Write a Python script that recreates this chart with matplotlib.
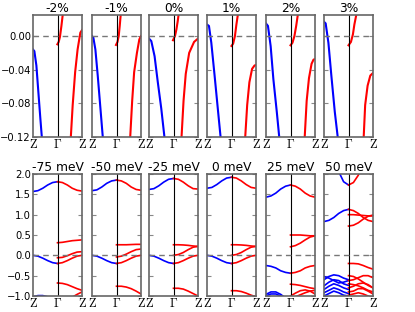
import numpy as np
import matplotlib
matplotlib.use('Agg')
import matplotlib.pyplot as plt

plt.rcParams['mathtext.fontset'] = 'cm'
plt.rcParams['font.size'] = 8

# ---- top row: strain series, small energy window ----
strain_titles = ['-2%', '-1%', '0%', '1%', '2%', '3%']

# blue band leaving Z (x, E)
strain_blue_x = [
    [0, 0.028, 0.069, 0.11, 0.15, 0.18],
    [0, 0.028, 0.069, 0.117, 0.172, 0.22],
    [0, 0.047, 0.114, 0.18, 0.25, 0.315],
    [0, 0.04, 0.088, 0.155, 0.22, 0.277],
    [0, 0.04, 0.095, 0.15, 0.22, 0.27],
    [0, 0.034, 0.09, 0.15, 0.22, 0.28],
]
strain_blue_y = [
    [-0.016, -0.018, -0.035, -0.067, -0.098, -0.12],
    [0.0, -0.002, -0.016, -0.047, -0.086, -0.12],
    [-0.003, -0.006, -0.024, -0.055, -0.086, -0.12],
    [0.0137, 0.012, -0.008, -0.047, -0.086, -0.12],
    [0.0149, 0.012, -0.012, -0.051, -0.09, -0.12],
    [0.0169, 0.015, -0.008, -0.047, -0.09, -0.12],
]
# red band leaving Gamma
strain_redg_x = [
    [0.497, 0.524, 0.55, 0.58, 0.607],
    [0.49, 0.52, 0.545, 0.566, 0.586],
    [0.49, 0.53, 0.56, 0.587, 0.604],
    [0.5, 0.534, 0.57, 0.6, 0.63],
    [0.5, 0.54, 0.58, 0.616, 0.65],
    [0.5, 0.55, 0.59, 0.62, 0.66],
]
strain_redg_y = [
    [-0.0098, -0.007, -0.001, 0.012, 0.0255],
    [-0.0106, -0.007, 0.0, 0.012, 0.0255],
    [-0.005, 0.0, 0.008, 0.018, 0.0255],
    [-0.0118, -0.009, 0.0, 0.0137, 0.0255],
    [-0.011, -0.008, 0.0, 0.012, 0.0255],
    [-0.011, -0.007, 0.002, 0.0137, 0.0255],
]
# red band arriving at Z
strain_redz_x = [
    [0.772, 0.81, 0.86, 0.91, 0.966, 1.0],
    [0.78, 0.82, 0.86, 0.917, 0.966, 1.0],
    [0.664, 0.705, 0.75, 0.82, 0.92, 1.0],
    [0.78, 0.82, 0.865, 0.92, 0.97, 1.0],
    [0.79, 0.83, 0.877, 0.93, 0.97, 1.0],
    [0.81, 0.84, 0.89, 0.945, 0.98, 1.0],
]
strain_redz_y = [
    [-0.12, -0.082, -0.043, -0.016, 0.004, 0.007],
    [-0.12, -0.077, -0.043, -0.02, -0.004, 0.0],
    [-0.12, -0.077, -0.045, -0.02, -0.007, -0.003],
    [-0.12, -0.082, -0.055, -0.039, -0.035, -0.0345],
    [-0.12, -0.077, -0.05, -0.033, -0.028, -0.0275],
    [-0.12, -0.082, -0.059, -0.047, -0.045, -0.044],
]

# ---- bottom row: gate series, wide energy window ----
gate_titles = ['-75 meV', '-50 meV', '-25 meV', '0 meV', '25 meV', '50 meV']
k_left = [0, 0.1, 0.2, 0.3, 0.4, 0.5]    # Z -> Gamma
k_right = [0.5, 0.6, 0.7, 0.8, 0.9, 1.0]  # Gamma -> Z

gate_blue = [
    [[1.57, 1.59, 1.65, 1.73, 1.79, 1.81],
     [0.0, -0.02, -0.07, -0.13, -0.18, -0.2],
     [-1.02, -0.99, -0.99, -1.02, -1.08, -1.1]],
    [[1.59, 1.61, 1.68, 1.77, 1.83, 1.85],
     [0.0, -0.02, -0.07, -0.13, -0.18, -0.2]],
    [[1.62, 1.64, 1.71, 1.80, 1.87, 1.89],
     [0.0, -0.02, -0.07, -0.13, -0.18, -0.2]],
    [[1.65, 1.67, 1.74, 1.83, 1.90, 1.92],
     [0.0, -0.02, -0.07, -0.13, -0.18, -0.2]],
    [[1.43, 1.46, 1.53, 1.63, 1.70, 1.73],
     [-0.25, -0.27, -0.31, -0.38, -0.42, -0.44],
     [-0.96, -0.9, -0.9, -0.96, -1.05, -1.1],
     [-1.0, -0.95, -0.95, -1.0, -1.05, -1.1]],
    [[3.0, 2.9, 2.48, 2.06, 1.81, 1.73],
     [0.83, 0.86, 0.93, 1.03, 1.10, 1.13],
     [-0.6, -0.52, -0.48, -0.5, -0.56, -0.6],
     [-0.52, -0.56, -0.62, -0.68, -0.66, -0.62],
     [-0.75, -0.66, -0.6, -0.62, -0.7, -0.74],
     [-0.84, -0.76, -0.7, -0.74, -0.8, -0.84],
     [-0.92, -0.86, -0.8, -0.84, -0.9, -0.94],
     [-1.0, -0.94, -0.88, -0.92, -0.98, -1.0]],
]
gate_red = [
    [[1.81, 1.79, 1.73, 1.65, 1.60, 1.58],
     [-0.2, -0.18, -0.13, -0.07, -0.02, 0.0],
     [-0.06, -0.05, -0.01, 0.04, 0.08, 0.09],
     [0.31, 0.32, 0.34, 0.36, 0.37, 0.38],
     [-0.68, -0.69, -0.72, -0.77, -0.82, -0.86],
     [-1.2, -1.15, -1.1, -1.03, -0.96, -0.9]],
    [[1.85, 1.83, 1.77, 1.68, 1.62, 1.60],
     [-0.2, -0.18, -0.13, -0.07, -0.02, 0.0],
     [-0.04, -0.02, 0.03, 0.09, 0.14, 0.155],
     [0.26, 0.26, 0.26, 0.265, 0.27, 0.27],
     [-0.76, -0.76, -0.78, -0.82, -0.88, -0.95]],
    [[1.89, 1.87, 1.80, 1.71, 1.64, 1.63],
     [-0.2, -0.18, -0.13, -0.07, -0.02, 0.0],
     [0.0, 0.02, 0.07, 0.14, 0.2, 0.22],
     [0.26, 0.26, 0.255, 0.245, 0.23, 0.22],
     [-0.81, -0.81, -0.83, -0.88, -0.94, -1.0]],
    [[1.92, 1.90, 1.83, 1.74, 1.67, 1.65],
     [-0.2, -0.18, -0.13, -0.07, -0.02, 0.0],
     [0.0, 0.02, 0.07, 0.14, 0.2, 0.22],
     [0.26, 0.26, 0.255, 0.245, 0.23, 0.22],
     [-0.87, -0.87, -0.89, -0.93, -0.98, -1.02]],
    [[1.73, 1.70, 1.63, 1.53, 1.46, 1.43],
     [0.5, 0.5, 0.5, 0.49, 0.48, 0.48],
     [0.21, 0.24, 0.3, 0.38, 0.45, 0.48],
     [-0.44, -0.42, -0.38, -0.31, -0.27, -0.25],
     [-0.71, -0.72, -0.74, -0.77, -0.8, -0.82],
     [-1.0, -0.93, -0.87, -0.85, -0.88, -0.95],
     [-1.05, -1.02, -0.97, -0.92, -0.88, -0.86]],
    [[1.73, 1.79, 1.97, 2.3, 2.7, 3.0],
     [1.13, 1.10, 1.03, 0.93, 0.86, 0.83],
     [1.0, 1.0, 0.99, 0.98, 0.97, 0.97],
     [0.72, 0.74, 0.8, 0.89, 0.96, 0.99],
     [-0.2, -0.2, -0.21, -0.25, -0.3, -0.34],
     [-0.5, -0.52, -0.58, -0.66, -0.74, -0.8],
     [-0.62, -0.6, -0.55, -0.5, -0.5, -0.55],
     [-0.7, -0.72, -0.75, -0.8, -0.86, -0.9],
     [-0.8, -0.76, -0.7, -0.68, -0.72, -0.8],
     [-0.9, -0.88, -0.82, -0.82, -0.88, -0.95],
     [-0.98, -0.95, -0.92, -0.95, -1.0, -1.05]],
]

W, H = 415, 312
fig = plt.figure(figsize=(W / 100, H / 100), dpi=100)

lefts = [33, 92, 149, 207, 266, 324]
pw = 49


def style(ax, ylim, yticks, show_y):
    ax.set_xlim(0, 1)
    ax.set_ylim(*ylim)
    ax.axvline(0.5, color='k', lw=0.8)
    ax.axhline(0, color='#777777', lw=1.0, ls='--', dashes=(4, 3))
    ax.set_xticks([0, 0.5, 1])
    ax.set_xticklabels([r'$\mathrm{Z}$', r'$\Gamma$', r'$\mathrm{Z}$'], fontsize=9)
    ax.set_yticks(yticks)
    ax.tick_params(axis='y', direction='in', left=True, right=True, length=3,
                   color='#888888', labelleft=show_y, labelsize=7.2, pad=1.5)
    ax.tick_params(axis='x', direction='in', length=0, pad=1)
    for s in ax.spines.values():
        s.set_color('#666666')
        s.set_linewidth(1.2)


for i in range(6):
    ax = fig.add_axes([lefts[i] / W, 1 - 137 / H, pw / W, 122 / H])
    ax.plot(strain_blue_x[i], strain_blue_y[i], color='#0000ff', lw=1.5)
    ax.plot(strain_redg_x[i], strain_redg_y[i], color='#ff0000', lw=1.5)
    ax.plot(strain_redz_x[i], strain_redz_y[i], color='#ff0000', lw=1.5)
    style(ax, (-0.12, 0.025), [-0.12, -0.08, -0.04, 0.0], i == 0)
    if i == 0:
        ax.set_yticklabels(['\u22120.12', '\u22120.08', '\u22120.04', '0.00'])
    ax.set_title(strain_titles[i], fontsize=8.8, pad=2)

for i in range(6):
    ax = fig.add_axes([lefts[i] / W, 1 - 296 / H, pw / W, 122 / H])
    for yb in gate_blue[i]:
        ax.plot(k_left, yb, color='#0000ff', lw=1.2)
    for yr in gate_red[i]:
        ax.plot(k_right, yr, color='#ff0000', lw=1.2)
    style(ax, (-1.0, 2.0), [-1.0, -0.5, 0.0, 0.5, 1.0, 1.5, 2.0], i == 0)
    ax.set_title(gate_titles[i], fontsize=8.8, pad=2)

fig.savefig('out.png', dpi=100)
